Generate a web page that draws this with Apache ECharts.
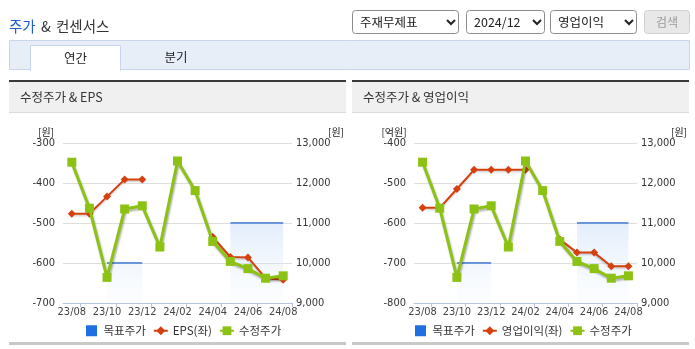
<!DOCTYPE html>
<html><head><meta charset="utf-8">
<script src="https://cdn.jsdelivr.net/npm/echarts@6/dist/echarts.min.js"></script>
<style>html,body{margin:0;padding:0;background:#fff}#c{width:695px;height:349px}</style>
</head><body><div id="c"></div>
<script>
// ---- data ----
const categories = ['23/08','23/09','23/10','23/11','23/12','24/01','24/02','24/03','24/04','24/05','24/06','24/07','24/08'];
const adjPrice   = [12520, 11370, 9640, 11350, 11430, 10400, 12550, 11810, 10540, 10040, 9860, 9620, 9680];
const targetPrice = [null, null, 10000, 10000, 10000, null, null, null, null, 11000, 11000, 11000, 11000];
const eps        = [-477, -477, -434, -391, -391, null, null, null, -535, -585, -586, -638, -642];
const opProfit   = [-562, -562, -515, -467, -467, -467, -467, null, -641, -674, -674, -708, -708];
const epsAxis    = {min: -700, max: -300, interval: 100};
const opAxis     = {min: -800, max: -400, interval: 100};
const priceAxis  = {min: 9000, max: 13000, interval: 1000};

const KR = "'Noto Sans CJK KR', 'Noto Sans', sans-serif";
const NUM = "'Liberation Sans Narrow', 'DejaVu Sans Condensed', 'Liberation Sans', sans-serif";

const chart = echarts.init(document.getElementById('c'), null, {renderer: 'canvas'});

function txt(text, x, y, size, color, align, family) {
  return {type: 'text', silent: true, style: {text: text, x: x, y: y, fill: color, fontSize: size,
    fontFamily: family || KR, align: align || 'left', verticalAlign: 'middle'}};
}
function rect(x, y, w, h, fill, stroke, r) {
  return {type: 'rect', silent: true, shape: {x: x, y: y, width: w, height: h, r: r || 0},
    style: {fill: fill, stroke: stroke || null, lineWidth: stroke ? 1 : 0}};
}
function chevron(cx, cy) {
  return {type: 'polyline', silent: true, shape: {points: [[cx - 4, cy - 2], [cx, cy + 2], [cx + 4, cy - 2]]},
    style: {stroke: '#222', lineWidth: 2, fill: null}};
}
function panel(x0, x1, title) {
  const w = x1 - x0;
  return [
    rect(x0, 80, w, 2, '#3a3a3a'),
    rect(x0, 82, w, 30, '#f0f0f0'),
    rect(x0, 112, w, 1, '#dcdcdc'),
    txt(title, x0 + 11, 97.5, 12.5, '#333'),
    rect(x0, 342, w, 3, '#c8c8c8')
  ];
}

const graphics = [].concat(
  [
    txt('주가', 9, 26, 14.5, '#1f5fcf'),
    txt('&', 41, 26, 14.5, '#333'),
    txt('컨센서스', 56, 26, 14.5, '#333'),
    rect(352.5, 10.5, 106, 23, '#fff', '#8c8c8c', 3),
    txt('주재무제표', 360, 22, 12.5, '#222'),
    chevron(451, 22),
    rect(466.5, 10.5, 78, 23, '#fff', '#8c8c8c', 3),
    txt('2024/12', 474, 22, 12.5, '#222'),
    chevron(537, 22),
    rect(550.5, 10.5, 86, 23, '#fff', '#8c8c8c', 3),
    txt('영업이익', 558, 22, 12.5, '#222'),
    chevron(629, 22),
    rect(644.5, 10.5, 45, 23, '#e8e8e8', '#cfcfcf', 3),
    txt('검색', 667, 22, 12, '#9a9a9a', 'center'),
    rect(9.5, 40.5, 680, 29, '#e8eef8', '#c9d5e8'),
    rect(30.5, 45.5, 90, 25, '#fff', '#c9d5e8'),
    rect(31, 69, 89, 2, '#fff'),
    txt('연간', 75.5, 58, 12.5, '#222', 'center'),
    txt('분기', 176, 57.5, 12.5, '#222', 'center'),
    txt('[원]', 46, 132.5, 10, '#222', 'center'),
    txt('[원]', 336, 132.5, 10, '#222', 'center'),
    txt('[억원]', 394, 132.5, 10, '#222', 'center'),
    txt('[원]', 679, 132.5, 10, '#222', 'center')
  ],
  panel(9, 346, '수정주가 & EPS'),
  panel(352, 689, '수정주가 & 영업이익')
);

function xAxis(gi) {
  return {
    type: 'category', gridIndex: gi, data: categories, boundaryGap: true,
    axisLine: {lineStyle: {color: '#b5c6dc', width: 1}},
    axisTick: {show: true, length: 4, interval: function (i) { return i % 2 === 1; }, lineStyle: {color: '#b5c6dc'}},
    axisLabel: {interval: 1, fontSize: 11, color: '#444', margin: 4, fontFamily: NUM},
    splitLine: {show: false}
  };
}
function yLeft(gi, ax) {
  return {
    type: 'value', gridIndex: gi, position: 'left', min: ax.min, max: ax.max, interval: ax.interval,
    axisLine: {show: false}, axisTick: {show: false},
    axisLabel: {fontSize: 11, color: '#333', margin: 8, fontFamily: NUM},
    splitLine: {show: true, lineStyle: {color: '#dedede', width: 1}}
  };
}
function yRight(gi) {
  return {
    type: 'value', gridIndex: gi, position: 'right', min: priceAxis.min, max: priceAxis.max, interval: priceAxis.interval,
    axisLine: {show: false}, axisTick: {show: false},
    axisLabel: {fontSize: 11, color: '#333', margin: 4, fontFamily: NUM},
    splitLine: {show: false}
  };
}
function seriesFor(gi, name, values) {
  const xi = gi, yl = gi * 2, yr = gi * 2 + 1;
  return [
    {
      name: '목표주가', type: 'line', xAxisIndex: xi, yAxisIndex: yr, data: targetPrice,
      symbol: 'none', connectNulls: false, z: 1,
      itemStyle: {color: '#1f6fe0'},
      lineStyle: {color: '#6a95d8', width: 2},
      areaStyle: {origin: 'start', color: new echarts.graphic.LinearGradient(0, 0, 0, 1, [
        {offset: 0, color: 'rgba(198,220,247,0.7)'},
        {offset: 1, color: 'rgba(232,241,252,0.2)'}
      ])},
      animation: false
    },
    {
      name: name, type: 'line', xAxisIndex: xi, yAxisIndex: yl, data: values,
      symbol: 'diamond', symbolSize: 8, showAllSymbol: true, connectNulls: false, z: 2,
      itemStyle: {color: '#d4400e'},
      lineStyle: {color: '#d4400e', width: 2, shadowColor: 'rgba(0,0,0,0.2)', shadowBlur: 2, shadowOffsetY: 1.5},
      animation: false
    },
    {
      name: '수정주가', type: 'line', xAxisIndex: xi, yAxisIndex: yr, data: adjPrice,
      symbol: 'rect', symbolSize: 9, showAllSymbol: true, z: 3,
      itemStyle: {color: '#8cc214'},
      lineStyle: {color: '#8cc214', width: 3, shadowColor: 'rgba(0,0,0,0.3)', shadowBlur: 2, shadowOffsetX: 1, shadowOffsetY: 2},
      animation: false
    }
  ];
}
function legend(left, name) {
  return {
    left: left, top: 320, orient: 'horizontal', itemWidth: 14, itemHeight: 11, itemGap: 7,
    selectedMode: false,
    textStyle: {fontSize: 11.5, color: '#333', fontFamily: KR},
    data: [{name: '목표주가', icon: 'path://M0,0H10V10H0Z'}, {name: name}, {name: '수정주가'}]
  };
}

const option = {
  backgroundColor: '#fff',
  animation: false,
  textStyle: {fontFamily: KR},
  graphic: graphics,
  grid: [
    {left: 63, top: 143, width: 229, height: 160, containLabel: false},
    {left: 414, top: 143, width: 223, height: 160, containLabel: false}
  ],
  xAxis: [xAxis(0), xAxis(1)],
  yAxis: [yLeft(0, epsAxis), yRight(0), yLeft(1, opAxis), yRight(1)],
  legend: [legend(81, 'EPS(좌)'), legend(410, '영업이익(좌)')],
  series: [].concat(seriesFor(0, 'EPS(좌)', eps), seriesFor(1, '영업이익(좌)', opProfit))
};
chart.setOption(option);
</script>
</body></html>
